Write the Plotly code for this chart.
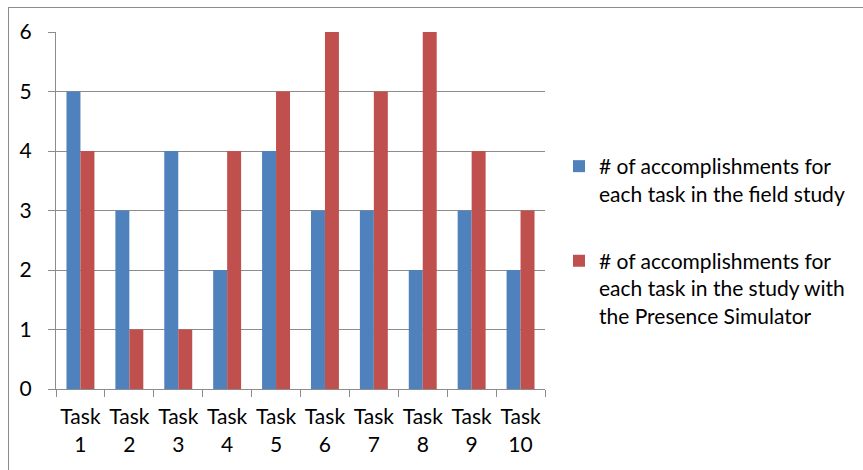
import plotly.graph_objects as go

categories = ["Task<br>1", "Task<br>2", "Task<br>3", "Task<br>4", "Task<br>5",
              "Task<br>6", "Task<br>7", "Task<br>8", "Task<br>9", "Task<br>10"]
field_study = [5, 3, 4, 2, 4, 3, 3, 2, 3, 2]
presence_sim = [4, 1, 1, 4, 5, 6, 5, 6, 4, 3]
series_names = [
    "# of accomplishments for<br>each task in the field study",
    "# of accomplishments for<br>each task in the study with<br>the Presence Simulator",
]
colors = ["#4F81BD", "#C0504D"]

W, H = 863, 470
L, R, T, B = 56, 545, 32, 389
FONT = "Lato, Carlito, Calibri, 'Noto Sans', sans-serif"
FS = 21
GRID = "#8C8C8C"

fig = go.Figure()
for i, (name, vals) in enumerate(zip(series_names, [field_study, presence_sim])):
    fig.add_trace(go.Bar(x=categories, y=vals, name=name, legendgroup=f"g{i}",
                         marker=dict(color=colors[i], line=dict(width=0))))

def px_x(p):
    return (p - L) / (R - L)

def px_y(p):
    return (B - p) / (B - T)

shapes = [
    dict(type="line", xref="paper", yref="paper", x0=px_x(8), x1=px_x(W + 5),
         y0=px_y(7.5), y1=px_y(7.5), line=dict(color=GRID, width=1)),
    dict(type="line", xref="paper", yref="paper", x0=px_x(8.5), x1=px_x(8.5),
         y0=px_y(7.5), y1=px_y(H + 5), line=dict(color=GRID, width=1)),
]

fig.update_layout(
    width=W, height=H,
    margin=dict(l=L, r=W - R, t=T, b=H - B, pad=0),
    paper_bgcolor="white", plot_bgcolor="white",
    barmode="group", bargap=0.4286, bargroupgap=0,
    font=dict(family=FONT, size=FS, color="black"),
    showlegend=True,
    legend=dict(x=px_x(559), xanchor="left", y=px_y(146), yanchor="top",
                valign="top", tracegroupgap=37, font=dict(size=FS),
                bgcolor="rgba(0,0,0,0)"),
    shapes=shapes,
    xaxis=dict(showgrid=False, showline=True, linecolor=GRID, linewidth=1,
               ticks="outside", tickson="boundaries", ticklen=7, tickcolor=GRID,
               tickfont=dict(size=FS), ticklabelstandoff=9, tickangle=0,
               automargin=False),
    yaxis=dict(range=[0, 6], dtick=1, showgrid=True, gridcolor=GRID, gridwidth=1,
               showline=True, linecolor=GRID, linewidth=1, zeroline=False,
               ticks="outside", ticklen=7, tickcolor=GRID,
               tickfont=dict(size=FS), ticklabelstandoff=12, automargin=False),
)

fig.write_html("out.html")
